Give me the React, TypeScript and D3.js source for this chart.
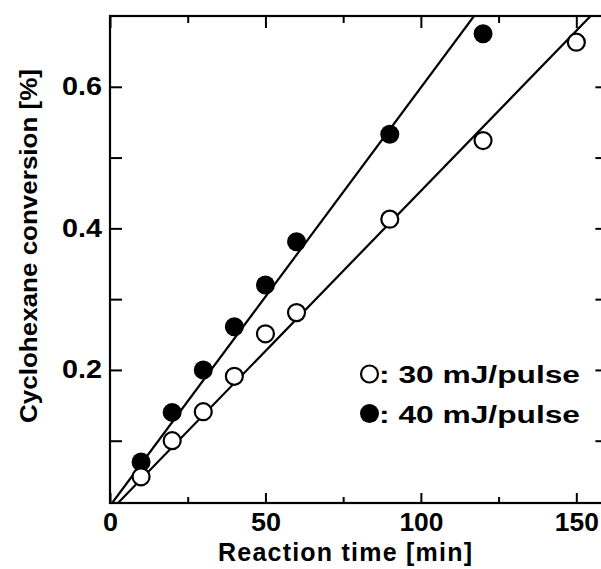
import React, { useEffect, useRef } from 'react';
import * as d3 from 'd3';

// 30 mJ/pulse (open circles)
const timeMin = [10, 20, 30, 40, 50, 60, 90, 120, 150];
const conv30 = [0.049, 0.1, 0.141, 0.191, 0.251, 0.281, 0.413, 0.524, 0.663];
// 40 mJ/pulse (filled circles)
const time40 = [10, 20, 30, 40, 50, 60, 90, 120];
const conv40 = [0.07, 0.14, 0.2, 0.261, 0.32, 0.381, 0.533, 0.675];

// straight fit lines, endpoints in data units
const fit30 = [[2.35, 0.011], [154.6, 0.7]];
const fit40 = [[0.7, 0.012], [117.1, 0.7]];

const xMajor = [0, 50, 100, 150];
const xMinor = [25, 75, 125];
const yMajor = [0.2, 0.4, 0.6];
const yMinor = [0.1, 0.3, 0.5];

const legendLabels = [': 30 mJ/pulse', ': 40 mJ/pulse'];

const W = 601;
const H = 569;
const FONT = '"Liberation Sans", Arial, Helvetica, sans-serif';

export default function App() {
  const svgRef = useRef<SVGSVGElement>(null);

  useEffect(() => {
    const svg = d3.select(svgRef.current);
    svg.selectAll('*').remove();

    // plot frame: right edge runs off the picture
    const x = d3.scaleLinear().domain([0, 160]).range([110, 607.4]);
    const y = d3.scaleLinear().domain([0.012, 0.7]).range([503, 16]);
    const [x0, x1] = x.range();
    const [y0, y1] = y.range();

    svg.append('defs').append('clipPath').attr('id', 'plot-clip')
      .append('rect')
      .attr('x', x0).attr('y', y1)
      .attr('width', x1 - x0).attr('height', y0 - y1);

    const styleAxis = (g) => {
      g.select('.domain').remove();
      g.selectAll('line').attr('stroke', '#000').attr('stroke-width', 2);
      g.selectAll('text')
        .attr('fill', '#000')
        .style('font-family', FONT)
        .style('font-weight', 'bold')
        .style('font-size', '25px');
    };

    // bottom axis
    svg.append('g').attr('transform', `translate(0,${y0})`)
      .call(d3.axisBottom(x).tickValues(xMajor).tickSize(-10).tickPadding(10).tickFormat(d3.format('d')))
      .call(styleAxis)
      .selectAll('text')
      .attr('textLength', (d) => (d >= 100 ? 44 : d >= 10 ? 30 : 15))
      .attr('lengthAdjust', 'spacingAndGlyphs');
    svg.append('g').attr('transform', `translate(0,${y0})`)
      .call(d3.axisBottom(x).tickValues(xMinor).tickSize(-6).tickFormat(() => ''))
      .call(styleAxis);

    // top axis (ticks only)
    svg.append('g').attr('transform', `translate(0,${y1})`)
      .call(d3.axisTop(x).tickValues(xMajor).tickSize(-12).tickFormat(() => ''))
      .call(styleAxis);
    svg.append('g').attr('transform', `translate(0,${y1})`)
      .call(d3.axisTop(x).tickValues(xMinor).tickSize(-7).tickFormat(() => ''))
      .call(styleAxis);

    // left axis
    svg.append('g').attr('transform', `translate(${x0},0)`)
      .call(d3.axisLeft(y).tickValues(yMajor).tickSize(-12).tickPadding(8).tickFormat(d3.format('.1f')))
      .call(styleAxis)
      .selectAll('text')
      .attr('textLength', 40)
      .attr('lengthAdjust', 'spacingAndGlyphs');
    svg.append('g').attr('transform', `translate(${x0},0)`)
      .call(d3.axisLeft(y).tickValues(yMinor).tickSize(-12).tickFormat(() => ''))
      .call(styleAxis);

    // right axis (ticks only)
    svg.append('g').attr('transform', `translate(${x1},0)`)
      .call(d3.axisRight(y).tickValues([...yMajor, ...yMinor]).tickSize(-12).tickFormat(() => ''))
      .call(styleAxis);

    // frame
    svg.append('rect')
      .attr('x', x0).attr('y', y1)
      .attr('width', x1 - x0).attr('height', y0 - y1)
      .attr('fill', 'none').attr('stroke', '#000').attr('stroke-width', 2.2);

    // fit lines
    const line = d3.line().x((d) => x(d[0])).y((d) => y(d[1]));
    const lines = svg.append('g').attr('clip-path', 'url(#plot-clip)');
    [fit30, fit40].forEach((pts) => {
      lines.append('path')
        .attr('d', line(pts))
        .attr('fill', 'none')
        .attr('stroke', '#000')
        .attr('stroke-width', 2.2);
    });

    // points
    const pts30 = timeMin.map((t, i) => ({ t, v: conv30[i] }));
    const pts40 = time40.map((t, i) => ({ t, v: conv40[i] }));

    svg.append('g').selectAll('circle')
      .data(pts40)
      .join('circle')
      .attr('cx', (d) => x(d.t))
      .attr('cy', (d) => y(d.v))
      .attr('r', 9.5)
      .attr('fill', '#000');

    svg.append('g').selectAll('circle')
      .data(pts30)
      .join('circle')
      .attr('cx', (d) => x(d.t))
      .attr('cy', (d) => y(d.v))
      .attr('r', 8.5)
      .attr('fill', '#fff')
      .attr('stroke', '#000')
      .attr('stroke-width', 2.2);

    // legend
    const legend = svg.append('g');
    legendLabels.forEach((label, i) => {
      const cy = 374 + i * 39.5;
      legend.append('circle')
        .attr('cx', 369.5).attr('cy', cy)
        .attr('r', i === 0 ? 8.5 : 9.5)
        .attr('fill', i === 0 ? '#fff' : '#000')
        .attr('stroke', '#000')
        .attr('stroke-width', i === 0 ? 2.2 : 0);
      legend.append('text')
        .attr('x', 379).attr('y', cy + 9)
        .attr('textLength', 201)
        .attr('lengthAdjust', 'spacingAndGlyphs')
        .style('font-family', FONT)
        .style('font-weight', 'bold')
        .style('font-size', '23px')
        .text(label);
    });

    // axis titles
    svg.append('text')
      .attr('x', 345).attr('y', 561)
      .attr('text-anchor', 'middle')
      .attr('textLength', 254)
      .attr('lengthAdjust', 'spacing')
      .style('font-family', FONT)
      .style('font-weight', 'bold')
      .style('font-size', '25px')
      .text('Reaction time [min]');

    svg.append('text')
      .attr('transform', 'translate(37,246) rotate(-90)')
      .attr('text-anchor', 'middle')
      .attr('textLength', 354)
      .attr('lengthAdjust', 'spacingAndGlyphs')
      .style('font-family', FONT)
      .style('font-weight', 'bold')
      .style('font-size', '24px')
      .text('Cyclohexane conversion [%]');
  }, []);

  return (
    <div style={{ position: 'absolute', left: 0, top: 0, width: W, height: H, background: '#fff' }}>
      <svg ref={svgRef} width={W} height={H} style={{ display: 'block' }} />
    </div>
  );
}
